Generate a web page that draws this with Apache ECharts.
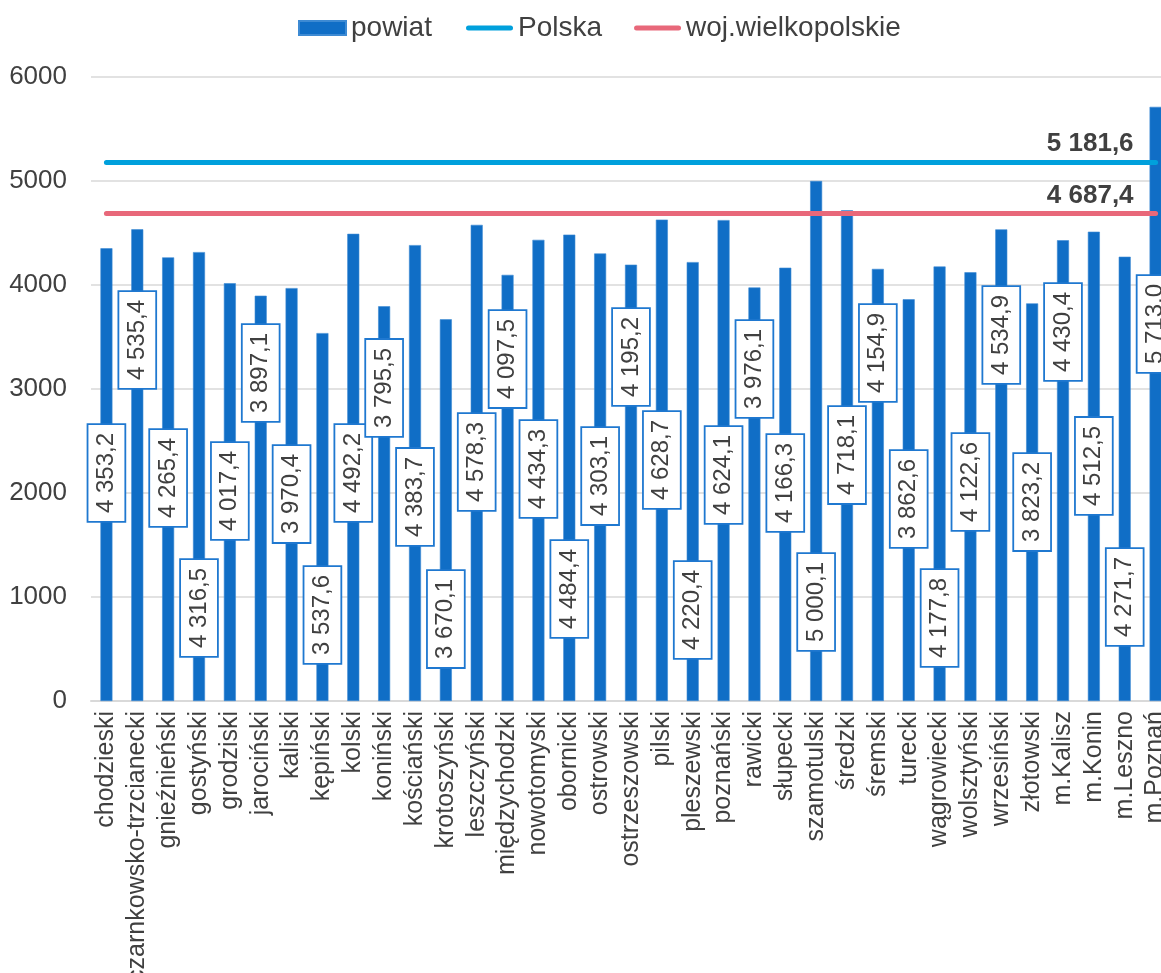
<!DOCTYPE html>
<html>
<head>
<meta charset="utf-8">
<script src="https://cdn.jsdelivr.net/npm/echarts@6/dist/echarts.min.js"></script>
<style>
html,body{margin:0;padding:0;background:#fff;}
#chart{width:1161px;height:973px;}
</style>
</head>
<body>
<div id="chart"></div>
<script>
var categories = ['chodzieski','czarnkowsko-trzcianecki','gnieźnieński','gostyński','grodziski','jarociński','kaliski','kępiński','kolski','koniński','kościański','krotoszyński','leszczyński','międzychodzki','nowotomyski','obornicki','ostrowski','ostrzeszowski','pilski','pleszewski','poznański','rawicki','słupecki','szamotulski','średzki','śremski','turecki','wągrowiecki','wolsztyński','wrzesiński','złotowski','m.Kalisz','m.Konin','m.Leszno','m.Poznań'];
var powiat = [4353.2,4535.4,4265.4,4316.5,4017.4,3897.1,3970.4,3537.6,4492.2,3795.5,4383.7,3670.1,4578.3,4097.5,4434.3,4484.4,4303.1,4195.2,4628.7,4220.4,4624.1,3976.1,4166.3,5000.1,4718.1,4154.9,3862.6,4177.8,4122.6,4534.9,3823.2,4430.4,4512.5,4271.7,5713.0];
// level (in axis units) at which each value label box is centred
var labelLevel = [2192,3471,2144,894,2019,3154,1990,827,2192,3010,1962,788,2298,3288,2231,1077,2163,3308,2317,875,2173,3192,2096,952,2365,3346,1942,798,2106,3519,1913,3548,2260,1000,3625];
var polska = 5181.6;
var wojewodztwo = 4687.4;
var yTicks = {min: 0, max: 6000, interval: 1000};

function fmt(v) {
  var s = v.toFixed(1).split('.');
  var i = s[0].replace(/\B(?=(\d{3})+(?!\d))/g, ' ');
  return i + ',' + s[1];
}

var FONT = "'Liberation Sans', Arial, sans-serif";
var TXT = '#404040';
var last = categories.length - 1;
var BLUE_LINE = '#00a0dc';
var RED_LINE = '#e8687a';
var LINE_ICON = 'path://M2.5,0 L44.5,0 A2.5,2.5 0 0 1 44.5,5 L2.5,5 A2.5,2.5 0 0 1 2.5,0 Z';

var chart = echarts.init(document.getElementById('chart'), null, {renderer: 'canvas'});
chart.setOption({
  animation: false,
  backgroundColor: '#ffffff',
  textStyle: {fontFamily: FONT},
  legend: [
    {
      top: 9,
      left: 293,
      itemWidth: 47,
      itemHeight: 14,
      textStyle: {fontSize: 28, color: TXT, fontFamily: FONT},
      data: [{name: 'powiat', icon: 'rect'}]
    },
    {
      top: 9,
      left: 461,
      itemWidth: 47,
      itemHeight: 5,
      itemGap: 32,
      textStyle: {fontSize: 28, color: TXT, fontFamily: FONT},
      data: [
        {name: 'Polska', icon: LINE_ICON},
        {name: 'woj.wielkopolskie', icon: LINE_ICON}
      ]
    }
  ],
  grid: {left: 91, top: 77, width: 1080, height: 624, containLabel: false, outerBoundsMode: 'none'},
  xAxis: {
    type: 'category',
    data: categories,
    axisTick: {show: false},
    axisLine: {show: true, lineStyle: {color: '#d9d9d9', width: 2}},
    axisLabel: {rotate: 90, interval: 0, margin: 10, fontSize: 25, color: TXT, fontFamily: FONT}
  },
  yAxis: {
    type: 'value',
    min: yTicks.min,
    max: yTicks.max,
    interval: yTicks.interval,
    axisLine: {show: false},
    axisTick: {show: false},
    splitLine: {lineStyle: {color: '#d9d9d9', width: 1.5}},
    axisLabel: {margin: 24, fontSize: 26, color: TXT, fontFamily: FONT, formatter: function (v) { return String(v); }}
  },
  series: [
    {
      name: 'powiat',
      type: 'bar',
      data: powiat,
      barWidth: 12,
      itemStyle: {color: '#106ec6', borderColor: '#3d8ad3', borderWidth: 0.6},
      z: 2
    },
    {
      name: 'labels',
      type: 'scatter',
      data: labelLevel.map(function (lv, i) { return [i, lv]; }),
      symbolSize: 0,
      silent: true,
      z: 5,
      itemStyle: {opacity: 1},
      label: {
        show: true,
        position: 'inside',
        rotate: 90,
        formatter: function (p) { return fmt(powiat[p.dataIndex]); },
        fontSize: 24,
        lineHeight: 24,
        color: TXT,
        textBorderWidth: 0,
        fontFamily: FONT,
        backgroundColor: '#ffffff',
        borderColor: '#1f78d0',
        borderWidth: 1.8,
        padding: [6, 8, 6, 8]
      }
    },
    {
      name: 'Polska',
      type: 'line',
      data: [],
      symbol: 'none',
      color: BLUE_LINE,
      itemStyle: {color: BLUE_LINE},
      lineStyle: {color: BLUE_LINE, width: 5, cap: 'round'},
      z: 6,
      markLine: {
        silent: true,
        symbol: ['none', 'none'],
        lineStyle: {color: BLUE_LINE, width: 5, type: 'solid', cap: 'round'},
        label: {
          show: true,
          position: 'insideEndTop',
          distance: [22, 5],
          formatter: function () { return fmt(polska); },
          fontSize: 26,
          fontWeight: 'bold',
          color: TXT,
          fontFamily: FONT
        },
        data: [[{coord: [0, polska]}, {coord: [last, polska]}]]
      }
    },
    {
      name: 'woj.wielkopolskie',
      type: 'line',
      data: [],
      symbol: 'none',
      color: RED_LINE,
      itemStyle: {color: RED_LINE},
      lineStyle: {color: RED_LINE, width: 5, cap: 'round'},
      z: 6,
      markLine: {
        silent: true,
        symbol: ['none', 'none'],
        lineStyle: {color: RED_LINE, width: 5, type: 'solid', cap: 'round'},
        label: {
          show: true,
          position: 'insideEndTop',
          distance: [22, 5],
          formatter: function () { return fmt(wojewodztwo); },
          fontSize: 26,
          fontWeight: 'bold',
          color: TXT,
          fontFamily: FONT
        },
        data: [[{coord: [0, wojewodztwo]}, {coord: [last, wojewodztwo]}]]
      }
    }
  ]
});
</script>
</body>
</html>
